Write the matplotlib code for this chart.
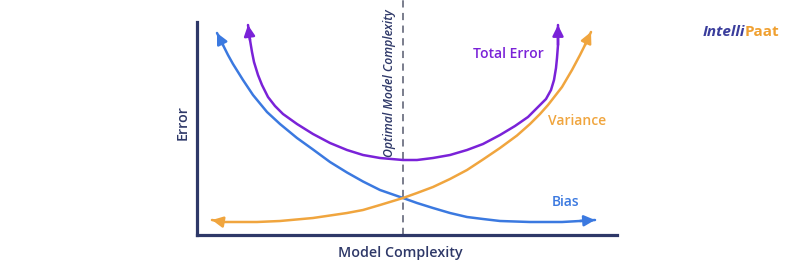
import matplotlib.pyplot as plt

# curve points (x = model complexity, y = error)
bias_x = [20, 26, 31, 36, 41, 46, 56, 70, 83, 100, 116, 133, 150, 166, 183, 206,
          220, 236, 253, 270, 286, 303, 333, 365, 383, 398]
bias_y = [202, 190, 180, 171, 163, 155, 140, 123, 111, 97, 85.5, 73, 62.5, 53.5, 45, 37,
          32, 27, 22, 18, 16, 14, 13, 13, 14, 15]

var_x = [15, 26, 43, 60, 83, 116, 150, 166, 183, 206, 220, 236, 253, 270, 286, 303,
         320, 333, 343, 351, 365, 375, 383, 388, 394]
var_y = [15, 13, 13, 13, 14, 17, 22, 25, 30, 37, 42, 48, 56, 65, 75.5, 87,
         99.5, 111, 121, 130, 148, 165, 180, 190, 203]

total_x = [51, 53, 55, 57, 61, 65, 71, 78, 86, 100, 116, 133, 150, 166, 183, 206,
           220, 236, 253, 270, 286, 303, 318, 331, 341, 349, 354, 357, 359, 360, 361, 361]
total_y = [210, 195, 183, 173, 160, 150, 138, 129, 121, 111, 101, 92, 85, 80, 77, 75,
           75, 77, 80, 85, 91, 100, 109, 118, 128, 136, 145, 155, 167, 177, 190, 210]

optimal_x = 206

blue = "#3b79e0"
purple = "#7a22d8"
orange = "#f0a53e"
navy = "#2e3868"

fig = plt.figure(figsize=(8, 2.7), dpi=100)
ax = fig.add_axes([197 / 800, 35 / 270, 420 / 800, 213 / 270])
ax.set_xlim(0, 420)
ax.set_ylim(0, 213)
ax.set_xticks([])
ax.set_yticks([])
for s in ["top", "right"]:
    ax.spines[s].set_visible(False)
for s in ["left", "bottom"]:
    ax.spines[s].set_color(navy)
    ax.spines[s].set_linewidth(2.3)

font = "Open Sans"


def arrow_curve(xs, ys, color):
    ax.plot(xs, ys, color=color, lw=1.8, solid_capstyle="round", solid_joinstyle="round", zorder=3)
    props = dict(arrowstyle="-|>", color=color, lw=1.8, mutation_scale=16, shrinkA=0, shrinkB=0)
    ax.annotate("", xy=(xs[0], ys[0]), xytext=(xs[1], ys[1]), arrowprops=props, annotation_clip=False)
    ax.annotate("", xy=(xs[-1], ys[-1]), xytext=(xs[-2], ys[-2]), arrowprops=props, annotation_clip=False)


ax.plot([optimal_x, optimal_x], [0, 235], color="#6f7384", lw=1.3, dashes=(4, 3), clip_on=False, zorder=2)

arrow_curve(bias_x, bias_y, blue)
arrow_curve(var_x, var_y, orange)
arrow_curve(total_x, total_y, purple)

ax.text(193, 152, "Optimal Model Complexity", rotation=90, style="italic", fontsize=8.8,
        family=font, weight=600, color=navy, ha="center", va="center", clip_on=False)
ax.text(311, 181, "Total Error", fontsize=10, family=font, weight=600, color=purple, ha="center", va="center")
ax.text(380, 114, "Variance", fontsize=10, family=font, weight=600, color=orange, ha="center", va="center")
ax.text(369, 33, "Bias", fontsize=10, family=font, weight=600, color=blue, ha="center", va="center")

ax.text(203, -18, "Model Complexity", fontsize=10.3, family=font, weight=600,
        color=navy, ha="center", va="center", clip_on=False)
ax.text(-14, 112, "Error", rotation=90, fontsize=10.3, family=font, weight=600,
        color=navy, ha="center", va="center", clip_on=False)

# logo
logo = fig.text(0.878, 0.88, "Intelli", fontsize=11, weight="bold", style="italic", family=font,
                color="#3a3d9c", ha="left", va="center")
fig.canvas.draw()
plt.annotate("Paat", xy=(1, 0), xycoords=logo, fontsize=11, weight="bold", family=font,
             color="#f0a030", ha="left", va="bottom")

fig.savefig("out.png", dpi=100)
